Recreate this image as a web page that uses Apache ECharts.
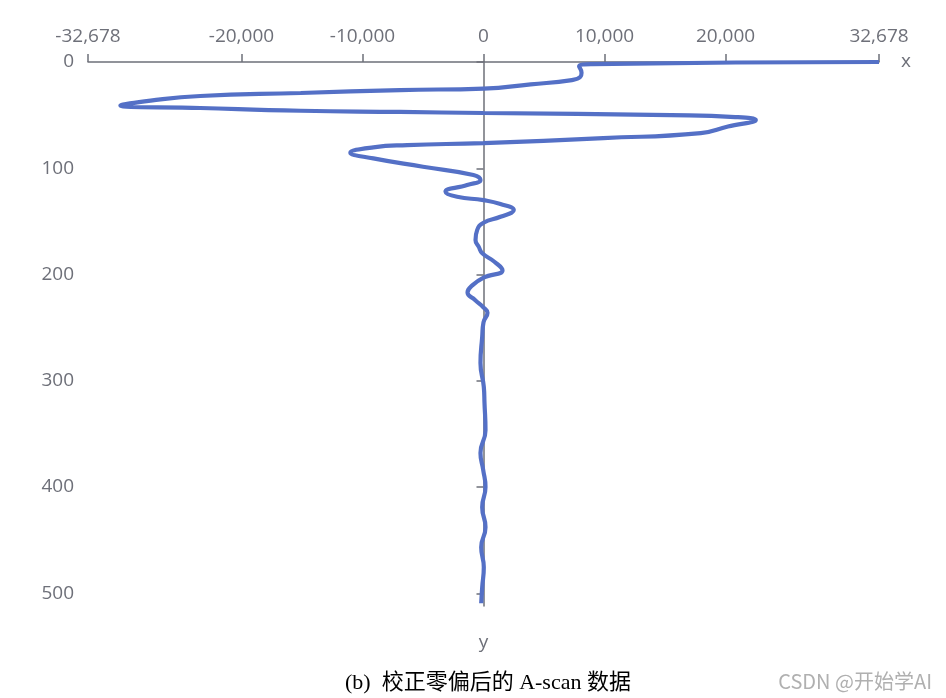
<!DOCTYPE html>
<html>
<head>
<meta charset="utf-8">
<script src="https://cdn.jsdelivr.net/npm/echarts@6/dist/echarts.min.js"></script>
<style>
html,body{margin:0;padding:0;background:#fff;}
#chart{width:946px;height:698px;}
</style>
</head>
<body>
<div id="chart"></div>
<script>
// depth (sample index, y) and amplitude (x)
const depthY = [0, 2, 4, 10, 14, 17, 21, 25, 26.4, 29.2, 32, 36.4, 41, 43.3, 45.9, 47, 48, 50, 51.8, 54.6,
  60.7, 66.9, 71.6, 76.3, 78.2, 80.3, 85.4, 90.7, 98.6, 106.4, 111, 115.8, 122, 126.8, 130, 133.7, 139.4,
  145.7, 151.3, 158, 167.6, 174, 180, 188, 196, 203, 210, 217, 224, 231, 236, 245, 258.7, 283.4, 305.7,
  321, 346.5, 368, 384, 400, 419, 437.9, 456.7, 475.5, 494.4, 509.4];
const amplitudeX = [32678, 9000, 7900, 8100, 8000, 7300, 3900, 0, -6900, -15100, -23400, -27500, -30000,
  -23400, -15100, -6900, 0, 15500, 20800, 22500, 20200, 17950, 9900, 0, -6300, -9100, -11000, -9100, -5000,
  -830, -250, -1350, -3140, -2180, 0, 1400, 2500, 1400, 0, -520, -660, -390, -100, 900, 1570, 0, -900, -1320,
  -700, 0, 330, 0, -108, -250, 25, 83, 165, -250, -25, 165, -108, 165, -190, 25, -108, -190];
const xTickValues = [-32678, -20000, -10000, 0, 10000, 20000, 32678];
const yTickValues = [0, 100, 200, 300, 400, 500];
const xMin = -32678, xMax = 32678, yMin = 0, yMax = 512;
const captionText = '(b)  校正零偏后的 A-scan 数据';
const watermarkText = 'CSDN @开始学AI';

const seriesData = depthY.map((y, i) => [amplitudeX[i], y]);
const labelFont = '"Open Sans", "Noto Sans", sans-serif';
const gray = '#6E7079';

const chart = echarts.init(document.getElementById('chart'), null, {renderer: 'canvas'});
chart.setOption({
  animation: false,
  backgroundColor: '#fff',
  grid: {left: 88, right: 67, top: 62, bottom: 92, containLabel: false, outerBoundsMode: 'none'},
  xAxis: {
    type: 'value', position: 'top', min: xMin, max: xMax,
    name: 'x', nameLocation: 'end', nameGap: 22,
    nameTextStyle: {color: gray, fontSize: 19, fontFamily: labelFont, verticalAlign: 'middle'},
    axisLine: {show: true, onZero: false, lineStyle: {color: gray, width: 1.5}},
    axisTick: {show: true, length: 8, customValues: xTickValues, lineStyle: {color: gray, width: 1.5}},
    axisLabel: {show: true, margin: 16, color: gray, fontSize: 19, fontFamily: labelFont,
      customValues: xTickValues, showMinLabel: true, showMaxLabel: true,
      formatter: v => Number(v).toLocaleString('en-US')},
    splitLine: {show: false}
  },
  yAxis: [{
    type: 'value', inverse: true, min: yMin, max: yMax, position: 'left',
    axisLine: {show: false, onZero: false},
    axisTick: {show: false},
    axisLabel: {show: true, margin: 14, color: gray, fontSize: 19, fontFamily: labelFont,
      customValues: yTickValues},
    splitLine: {show: false}
  }, {
    type: 'value', inverse: true, min: yMin, max: yMax, position: 'left',
    name: 'y', nameLocation: 'end', nameGap: 27,
    nameTextStyle: {color: gray, fontSize: 19, fontFamily: labelFont},
    axisLine: {show: true, onZero: true, lineStyle: {color: gray, width: 1.5}},
    axisTick: {show: true, length: 7, customValues: yTickValues, lineStyle: {color: gray, width: 1.5}},
    axisLabel: {show: false},
    splitLine: {show: false}
  }],
  series: [{
    type: 'line', xAxisIndex: 0, yAxisIndex: 0,
    data: seriesData, showSymbol: false, smooth: 0.5, clip: false,
    lineStyle: {color: '#5470c6', width: 4.2}
  }],
  graphic: [{
    type: 'text', left: 345, top: 672,
    style: {text: captionText, fill: '#000', font: '22px "Liberation Serif", "Noto Sans CJK SC", serif'}
  }, {
    type: 'text', right: 14, top: 671,
    style: {text: watermarkText, fill: '#b0b0b0', font: '20px "Noto Sans CJK SC", "Noto Sans", sans-serif'}
  }]
});
</script>
</body>
</html>
